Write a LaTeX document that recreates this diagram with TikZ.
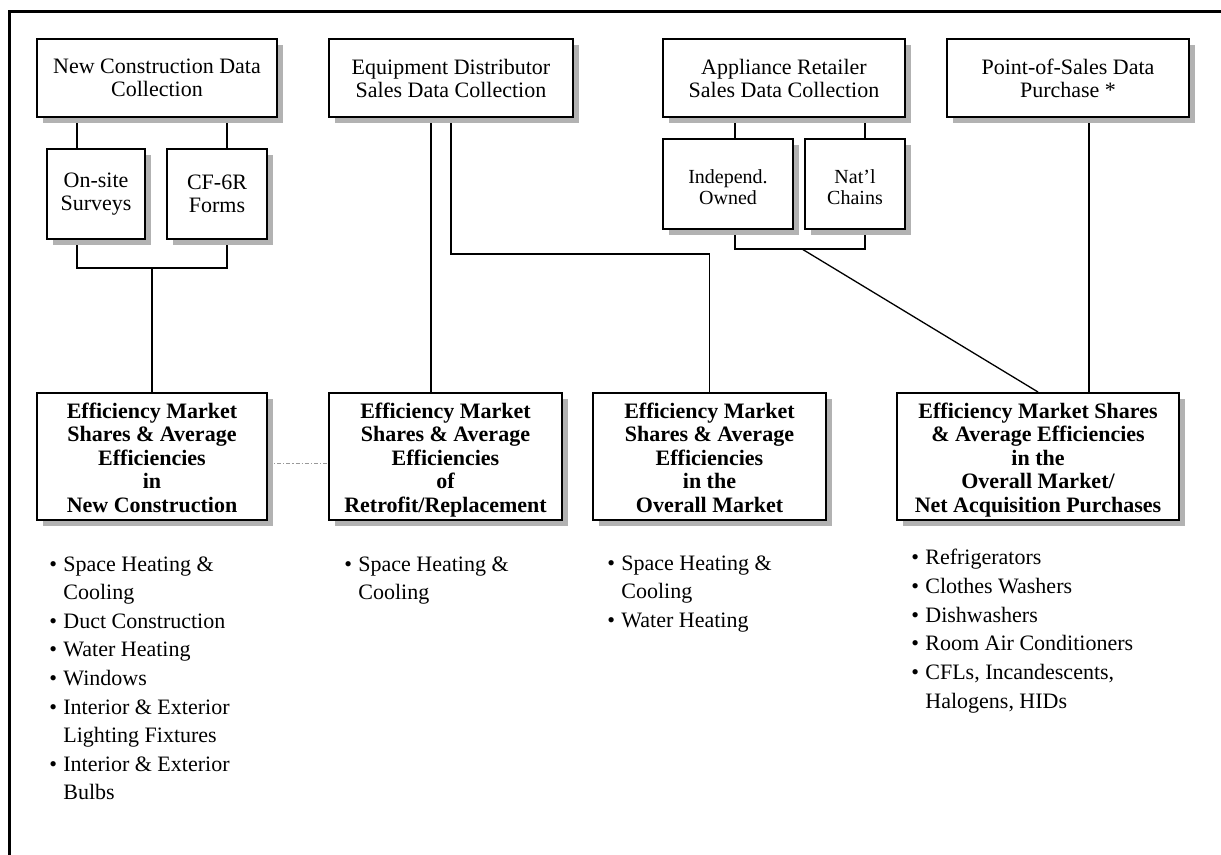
\documentclass[tikz,border=0pt]{standalone}
\usepackage{fontspec}
\setmainfont{Liberation Serif}
\usetikzlibrary{shadows}
\pgfdeclarelayer{bg}
\pgfsetlayers{bg,main}
\begin{document}
\begin{tikzpicture}[x=0.5pt,y=-0.5pt,
  box/.style={draw, line width=1pt, fill=white, inner sep=0pt, align=center,
    drop shadow={shadow xshift=3pt, shadow yshift=-3pt, fill=black!30, opacity=1}},
  topbox/.style={box, font=\fontsize{11}{11.5}\selectfont, minimum height=39pt},
  smallbox/.style={box, font=\fontsize{11}{11.5}\selectfont, minimum height=45pt},
  tinybox/.style={box, font=\fontsize{10}{10.8}\selectfont, minimum height=45pt},
  resbox/.style={box, font=\bfseries\fontsize{11}{11.75}\selectfont, minimum height=63.5pt},
  bullist/.style={inner sep=0pt, anchor=base west, align=left, font=\fontsize{11}{14.3}\selectfont},
  conn/.style={line width=0.65pt},
  dotline/.style={line width=0.4pt, draw=black!40, dash pattern=on 2pt off 1pt on 0.6pt off 1pt},
  frameline/.style={line width=1.7pt}
]
\useasboundingbox (0,0) rectangle (1221,855);
\newcommand{\bl}{\makebox[7pt][l]{\textbullet}}
\newcommand{\tallstrut}{\rule{0pt}{10pt}}
\newcommand{\headstrut}{\rule{0pt}{12.2pt}}

% top boxes
\node[topbox, minimum width=120pt] (T1) at (157,78) {New Construction Data\\Collection};
\node[topbox, minimum width=122pt] (T2) at (451,78) {Equipment Distributor\\Sales Data Collection};
\node[topbox, minimum width=121pt] (T3) at (784,78) {Appliance Retailer\\Sales Data Collection};
\node[topbox, minimum width=121pt] (T4) at (1068,78) {Point-of-Sales Data\\Purchase *};

% small boxes
\node[smallbox, minimum width=49pt] (S1) at (96,194) {On-site\\Surveys};
\node[smallbox, minimum width=50pt] (S2) at (217,194) {CF-6R\\Forms};
\node[tinybox, minimum width=65pt] (S3) at (728,184) {\tallstrut Independ.\\Owned};
\node[tinybox, minimum width=50pt] (S4) at (855,184) {\tallstrut Nat’l\\Chains};

% result boxes
\node[resbox, minimum width=115pt] (B1) at (152,456.5) {\headstrut Efficiency Market\\Shares \& Average\\Efficiencies\\in\\New Construction\strut};
\node[resbox, minimum width=116.5pt] (B2) at (445.5,456.5) {\headstrut Efficiency Market\\Shares \& Average\\Efficiencies\\of\\Retrofit/Replacement\strut};
\node[resbox, minimum width=116.5pt] (B3) at (709.5,456.5) {\headstrut Efficiency Market\\Shares \& Average\\Efficiencies\\in the\\Overall Market\strut};
\node[resbox, minimum width=141pt] (B4) at (1038,456.5) {\headstrut Efficiency Market Shares\\\& Average Efficiencies\\in the\\Overall Market/\\Net Acquisition Purchases\strut};

% bullet lists
\node[bullist] (L1) at (49,571) {\begin{tabular}[t]{@{}l@{}l@{}}
\bl & Space Heating \&\\
 & Cooling\\
\bl & Duct Construction\\
\bl & Water Heating\\
\bl & Windows\\
\bl & Interior \& Exterior\\
 & Lighting Fixtures\\
\bl & Interior \& Exterior\\
 & Bulbs
\end{tabular}};
\node[bullist] (L2) at (344,571) {\begin{tabular}[t]{@{}l@{}l@{}}
\bl & Space Heating \&\\
 & Cooling
\end{tabular}};
\node[bullist] (L3) at (607,570) {\begin{tabular}[t]{@{}l@{}l@{}}
\bl & Space Heating \&\\
 & Cooling\\
\bl & Water Heating
\end{tabular}};
\node[bullist, font=\fontsize{11}{14.5}\selectfont] (L4) at (911,564) {\begin{tabular}[t]{@{}l@{}l@{}}
\bl & Refrigerators\\
\bl & Clothes Washers\\
\bl & Dishwashers\\
\bl & Room Air Conditioners\\
\bl & CFLs, Incandescents,\\
 & Halogens, HIDs
\end{tabular}};

% helper coordinates
\path (S1.north) ++(-19,0) coordinate (a1);
\path (S2.north) ++(10,0) coordinate (a2);
\path (B1.north) ++(0,-124) coordinate (m1);
\path (B2.north) ++(-14.5,0) coordinate (a3);
\coordinate (m2) at (0,254);
\path (S3.north) ++(7,0) coordinate (a5);
\path (S4.north) ++(10,0) coordinate (a6);
\coordinate (m3) at (0,249);
\coordinate (d1) at (802,249);
\path (B4.north) ++(51,0) coordinate (a7);

\begin{pgfonlayer}{bg}
\draw[conn] (a1 |- T1.south) -- (a1);
\draw[conn] (a2 |- T1.south) -- (a2);
\draw[conn] (a1 |- S1.south) -- (a1 |- m1) -- (a2 |- m1) -- (a2 |- S2.south);
\draw[conn] (m1) -- (B1.north);
\draw[conn] (a3 |- T2.south) -- (a3);
\draw[conn] (T2.south) |- (m2 -| B3.north) -- (B3.north);
\draw[conn] (a5 |- T3.south) -- (a5);
\draw[conn] (a6 |- T3.south) -- (a6);
\draw[conn] (a5 |- S3.south) -- (a5 |- m3) -- (a6 |- m3) -- (a6 |- S4.south);
\draw[conn] (d1) -- (B4.north);
\draw[conn] (a7 |- T4.south) -- (a7);
\draw[dotline] ([yshift=-3.25pt]B1.east) -- ([yshift=-3.25pt]B2.west);
\end{pgfonlayer}

% frame
\draw[frameline] (9.3,855) -- (9.3,11.3) -- (1221,11.3);
\end{tikzpicture}
\end{document}
